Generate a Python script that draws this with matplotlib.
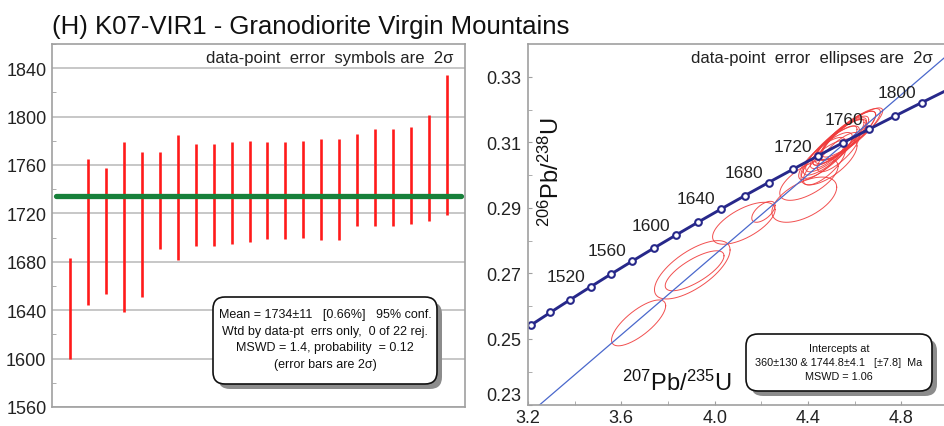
import numpy as np
import matplotlib
matplotlib.use("Agg")
import matplotlib.pyplot as plt
from matplotlib.patches import FancyBboxPatch
from matplotlib.transforms import IdentityTransform
from matplotlib.ticker import MultipleLocator, FixedLocator, FormatStrFormatter

plt.rcParams['font.family'] = ['Liberation Sans', 'DejaVu Sans']
plt.rcParams['mathtext.fontset'] = 'custom'
plt.rcParams['mathtext.rm'] = 'Liberation Sans'
plt.rcParams['mathtext.it'] = 'Liberation Sans:italic'
plt.rcParams['mathtext.bf'] = 'Liberation Sans:bold'

# ---------------- data ----------------
title = "(H) K07-VIR1 - Granodiorite Virgin Mountains"

# left panel: ages (Ma) and 2-sigma errors, ranked
ages = [1641.4, 1704.9, 1705.5, 1708.7, 1710.7, 1730.7, 1733.0, 1734.9, 1734.9,
        1736.7, 1738.0, 1738.8, 1738.8, 1739.6, 1739.8, 1739.8, 1747.6, 1749.8,
        1749.8, 1751.1, 1757.8, 1776.7]
errs = [42.0, 60.2, 52.3, 70.1, 59.9, 39.9, 51.9, 42.2, 42.2, 42.1, 42.0, 40.0,
        40.0, 40.3, 42.1, 42.1, 38.1, 40.3, 40.3, 40.2, 43.9, 57.8]
mean_age = 1734

left_box = ("Mean = 1734\u00b111   [0.66%]   95% conf.\n"
            "Wtd by data-pt  errs only,  0 of 22 rej.\n"
            "MSWD = 1.4, probability  = 0.12\n"
            "(error bars are 2\u03c3)")
right_box = ("Intercepts at\n"
             "360\u00b1130 & 1744.8\u00b14.1   [\u00b17.8]  Ma\n"
             "MSWD = 1.06")

# right panel ticks
x_major = [3.2, 3.6, 4.0, 4.4, 4.8]
x_minor = [3.4, 3.8, 4.2, 4.6]
y_major = [0.23, 0.25, 0.27, 0.29, 0.31, 0.33]
y_minor = [0.24, 0.26, 0.28, 0.30, 0.32]

# right panel: ellipses (207/235 centre, 206/238 centre, x half-extent, y half-extent, rho)
ell_x = [3.674, 3.904, 3.914, 4.125, 4.209, 4.384, 4.404,
         4.46, 4.48, 4.50, 4.51, 4.52, 4.53, 4.54, 4.55, 4.56, 4.57, 4.58, 4.59, 4.47, 4.49, 4.53]
ell_y = [0.2549, 0.2711, 0.2708, 0.2853, 0.2888, 0.2925, 0.2986,
         0.3050, 0.3060, 0.3075, 0.3085, 0.3090, 0.3100, 0.3105, 0.3110, 0.3115, 0.3120,
         0.3125, 0.3130, 0.3030, 0.3040, 0.3070]
ell_ex = [0.116, 0.162, 0.126, 0.134, 0.050, 0.139, 0.125,
          0.10, 0.11, 0.12, 0.10, 0.13, 0.11, 0.12, 0.10, 0.13, 0.12, 0.13, 0.13, 0.09, 0.12, 0.09]
ell_ey = [0.0070, 0.0089, 0.0061, 0.0064, 0.0032, 0.0069, 0.0063,
          0.0065, 0.0070, 0.0075, 0.0065, 0.0080, 0.0070, 0.0075, 0.0065, 0.0080, 0.0075,
          0.0078, 0.0075, 0.0060, 0.0070, 0.0060]
ell_rho = [0.75, 0.68, 0.75, 0.65, 0.6, 0.55, 0.65,
           0.80, 0.82, 0.84, 0.84, 0.86, 0.86, 0.86, 0.86, 0.86, 0.86, 0.86, 0.88, 0.75, 0.70, 0.80]

# concordia marks (Ma) and labelled ages
conc_marks = list(range(1460, 1801, 20))
conc_labels = list(range(1520, 1801, 40))
lower_intercept = 360.0
upper_intercept = 1744.8

L238 = 1.55125e-10
L235 = 9.8485e-10


def conc(t_ma):
    t = np.asarray(t_ma, dtype=float) * 1e6
    return np.exp(L235 * t) - 1, np.exp(L238 * t) - 1


# ---------------- figure ----------------
W, H = 945, 427
fig = plt.figure(figsize=(W / 100, H / 100), dpi=100)

fig.text(52 / W, (H - 34) / H, title, fontsize=18.5, ha='left', va='baseline', color='#111111')

spine_col = '#a0a0a0'

# ----- left panel -----
ax1 = fig.add_axes([52 / W, 19 / H, 413 / W, 363 / H])
ax1.set_xlim(0, 23)
ax1.set_ylim(1560, 1860)
ax1.yaxis.set_major_locator(MultipleLocator(40))
ax1.yaxis.set_minor_locator(MultipleLocator(20))
ax1.set_xticks([])
ax1.grid(axis='y', which='major', color='#b8b8b8', lw=1.1)
ax1.set_axisbelow(True)
ax1.tick_params(axis='y', which='both', direction='in', colors=spine_col,
                labelcolor='#222222', labelsize=13, pad=4)
ax1.tick_params(axis='y', which='major', length=0)
ax1.tick_params(axis='y', which='minor', length=3)
for s in ax1.spines.values():
    s.set_color(spine_col)
    s.set_linewidth(1.2)

xs = np.arange(1, len(ages) + 1)
a = np.array(ages)
e = np.array(errs)
ax1.vlines(xs, a - e, a + e, color='#ff1a1a', lw=1.9)
ax1.plot([0.2, 22.8], [mean_age, mean_age], color='#17803a', lw=3.8, solid_capstyle='round')
ax1.text(0.971, 0.962, "data-point  error  symbols are  2\u03c3", transform=ax1.transAxes,
         ha='right', va='center', fontsize=12, color='#222222')

# ----- right panel -----
ax2 = fig.add_axes([528 / W, 21.5 / H, 420 / W, 360.5 / H])
ax2.set_xlim(3.2, 5.0)
ax2.set_ylim(0.23, 0.34)
ax2.xaxis.set_major_locator(FixedLocator(x_major))
ax2.xaxis.set_minor_locator(FixedLocator(x_minor))
ax2.yaxis.set_major_locator(FixedLocator(y_major))
ax2.yaxis.set_minor_locator(FixedLocator(y_minor))
ax2.xaxis.set_major_formatter(FormatStrFormatter('%.1f'))
ax2.yaxis.set_major_formatter(FormatStrFormatter('%.2f'))
ax2.tick_params(axis='both', which='both', direction='in', colors=spine_col,
                labelcolor='#222222', labelsize=13, length=3)
ax2.tick_params(axis='x', pad=3)
ax2.tick_params(axis='y', pad=5)
for s in ax2.spines.values():
    s.set_color(spine_col)
    s.set_linewidth(1.2)
# lift the bottom-most y label a little so it clears the x labels
ylabs = ax2.get_yticklabels()
ylabs[0].set_va('bottom')

# ellipses
tt = np.linspace(0, 2 * np.pi, 200)
for cx, cy, ex, ey, r in zip(ell_x, ell_y, ell_ex, ell_ey, ell_rho):
    px = cx + ex * np.cos(tt)
    py = cy + ey * (r * np.cos(tt) + np.sqrt(1 - r * r) * np.sin(tt))
    ax2.plot(px, py, color='#f03c3c', lw=0.7, alpha=0.9)

# discordia
lx, ly = conc([lower_intercept, upper_intercept])
slope = (ly[1] - ly[0]) / (lx[1] - lx[0])
xd = np.array([3.0, 5.2])
ax2.plot(xd, ly[0] + slope * (xd - lx[0]), color='#4a68cc', lw=0.9)

# concordia
tc = np.linspace(1400, 1900, 400)
cx_, cy_ = conc(tc)
ax2.plot(cx_, cy_, color='#27288a', lw=2.1)
mx, my = conc(conc_marks)
ax2.plot(mx, my, 'o', ms=4.8, mfc='white', mec='#27288a', mew=1.5)
for t in conc_labels:
    x0, y0 = conc(t)
    ax2.annotate(str(t), (x0, y0), xytext=(-25, 10), textcoords='offset pixels',
                 ha='center', va='center', fontsize=12.5, color='#222222')

ax2.text(0.964, 0.962, "data-point  error  ellipses are  2\u03c3", transform=ax2.transAxes,
         ha='right', va='center', fontsize=12, color='#222222')
ax2.text(0.055, 0.648, r'$^{206}\mathrm{Pb}/^{238}\mathrm{U}$', transform=ax2.transAxes,
         rotation=90, ha='center', va='center', fontsize=17, color='#111111')
ax2.text(0.355, 0.062, r'$^{207}\mathrm{Pb}/^{235}\mathrm{U}$', transform=ax2.transAxes,
         ha='center', va='center', fontsize=17, color='#111111')

# ----- text boxes (pixel coordinates) -----
def box(x0, y0, x1, y1):
    ident = IdentityTransform()
    sh = FancyBboxPatch((x0 + 5, y0 - 5), x1 - x0, y1 - y0,
                        boxstyle="round,pad=0,rounding_size=12",
                        transform=ident, facecolor='#8c8c8c', edgecolor='none', zorder=5)
    bx = FancyBboxPatch((x0, y0), x1 - x0, y1 - y0,
                        boxstyle="round,pad=0,rounding_size=12",
                        transform=ident, facecolor='white', edgecolor='#111111', lw=1.2, zorder=6)
    fig.patches.extend([sh, bx])

box(213, H - 385, 437, H - 298)
fig.text(325 / W, (H - 340) / H, left_box, ha='center', va='center', fontsize=9,
         linespacing=1.55, zorder=7, color='#111111')

box(746, H - 392, 932, H - 335)
fig.text(839 / W, (H - 363) / H, right_box, ha='center', va='center', fontsize=7.8,
         linespacing=1.55, zorder=7, color='#111111')

fig.savefig("out.png", dpi=100)
